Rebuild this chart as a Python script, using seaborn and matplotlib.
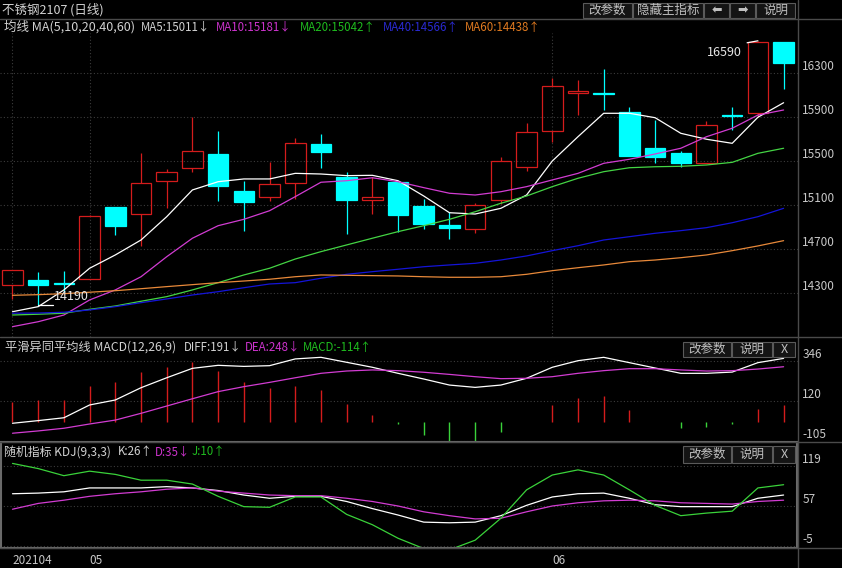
import matplotlib
matplotlib.use("Agg")
import matplotlib.pyplot as plt
import seaborn as sns
import pandas as pd
from matplotlib.patches import Rectangle
from matplotlib.lines import Line2D

# 不锈钢2107 日线
days = list(range(31))
opens = [14370, 14415, 14388, 14424, 15079, 15015, 15315, 15434, 15561, 15225,
         15170, 15297, 15652, 15352, 15143, 15306, 15088, 14915, 14879, 15143,
         15443, 15770, 16115, 16115, 15943, 15615, 15570, 15479, 15915, 15934, 16580]
highs = [14506, 14488, 14497, 15006, 15079, 15570, 15425, 15897, 15770, 15315,
         15488, 15706, 15743, 15397, 15352, 15306, 15152, 15034, 15115, 15534,
         15843, 16252, 16234, 16334, 15988, 15870, 15588, 15861, 15988, 16590, 16580]
lows = [14243, 14190, 14297, 14424, 14825, 14725, 15070, 15397, 15134, 14861,
        15134, 15152, 15434, 14834, 15015, 14852, 14879, 14788, 14843, 15106,
        15406, 15670, 15915, 15961, 15543, 15479, 15443, 15479, 15779, 15897, 16152]
closes = [14506, 14370, 14379, 14997, 14906, 15297, 15397, 15588, 15270, 15125,
          15288, 15661, 15579, 15143, 15170, 15006, 14925, 14888, 15097, 15497,
          15761, 16179, 16134, 16106, 15543, 15534, 15479, 15825, 15906, 16580, 16388]

ma5 = [14127, 14173, 14325, 14522, 14643, 14779, 14991, 15234, 15309, 15334,
       15334, 15385, 15379, 15364, 15367, 15318, 15179, 15027, 15015, 15067,
       15188, 15497, 15718, 15931, 15931, 15891, 15749, 15695, 15658, 15895, 16027]
ma10 = [13991, 14036, 14097, 14234, 14325, 14445, 14627, 14795, 14909, 14967,
        15045, 15173, 15304, 15318, 15345, 15309, 15255, 15204, 15188, 15218,
        15264, 15325, 15385, 15476, 15513, 15561, 15613, 15718, 15795, 15915, 15961]
ma20 = [14097, 14104, 14113, 14149, 14179, 14222, 14264, 14325, 14391, 14461,
        14522, 14606, 14673, 14734, 14795, 14855, 14909, 14967, 15036, 15113,
        15179, 15264, 15340, 15400, 15436, 15445, 15449, 15461, 15485, 15567, 15613]
ma40 = [14113, 14115, 14122, 14143, 14173, 14209, 14243, 14279, 14309, 14345,
        14379, 14391, 14431, 14467, 14491, 14513, 14536, 14552, 14567, 14597,
        14634, 14682, 14727, 14779, 14809, 14840, 14864, 14891, 14936, 14991, 15067]
ma60 = [14276, 14282, 14291, 14304, 14318, 14336, 14355, 14373, 14391, 14406,
        14422, 14445, 14461, 14458, 14455, 14452, 14445, 14440, 14440, 14445,
        14467, 14500, 14527, 14552, 14582, 14597, 14618, 14643, 14682, 14725, 14773]

diff = [-7, 8, 24, 96, 124, 193, 249, 302, 319, 313, 317, 355, 364, 336, 308, 274,
        242, 208, 195, 208, 246, 308, 345, 364, 334, 304, 274, 274, 281, 334, 358]
dea = [-63, -50, -35, -11, 11, 49, 90, 131, 171, 199, 223, 249, 274, 287, 293, 289,
       280, 268, 255, 244, 246, 255, 274, 289, 300, 300, 293, 287, 289, 298, 311]
macd_hist = [113, 124, 124, 203, 225, 281, 309, 336, 287, 225, 190, 203, 180, 101, 40, -12,
             -75, -118, -118, -56, 2, 96, 137, 148, 68, 3, -35, -30, -12, 73, 96]

k_vals = [76, 77, 79, 85, 85, 85, 87, 85, 81, 74, 69, 72, 72, 64, 53, 43,
          32, 31, 32, 42, 58, 71, 76, 77, 69, 59, 56, 56, 56, 69, 74]
d_vals = [52, 61, 66, 72, 76, 79, 83, 85, 80, 77, 74, 73, 73, 69, 64, 57,
          48, 42, 37, 38, 48, 57, 62, 65, 66, 65, 62, 61, 60, 64, 66]
j_vals = [123, 115, 104, 111, 106, 97, 97, 91, 72, 56, 55, 71, 71, 44, 28, 7,
          -9, -11, 4, 38, 82, 105, 113, 105, 82, 58, 42, 46, 49, 85, 90]

month_idx = [0, 3, 21]
month_labels = ["202104", "05", "06"]
price_ticks = [16300, 15900, 15500, 15100, 14700, 14300]
macd_ticks = [346, 120, -105]
kdj_ticks = [119, 57, -5]

RED = "#d41c1c"
CYAN = "#00ffff"
GREEN = "#3ad23a"
MAGENTA = "#d23cd2"
TXT = "#d2d2d2"
LINE = "#4a4a4a"

sns.set_theme(style="dark", rc={"axes.facecolor": "black", "figure.facecolor": "black"})
plt.rcParams['font.family'] = ['Noto Sans CJK SC', 'DejaVu Sans']
plt.rcParams['axes.unicode_minus'] = False

W, H = 842, 568
fig = plt.figure(figsize=(W / 100, H / 100), dpi=100)
fig.patch.set_facecolor('black')


def px_box(top, bottom):
    return [0, 1 - bottom / H, 798 / W, (bottom - top) / H]


ax = fig.add_axes(px_box(33, 337))
ax_macd = fig.add_axes(px_box(337, 442))
ax_kdj = fig.add_axes(px_box(442, 548))


def style_axis(a, ylim, ticks):
    a.set_facecolor('black')
    a.set_xlim(-0.486, 30.56)
    a.set_ylim(*ylim)
    a.set_yticks(ticks)
    a.set_yticklabels([str(t) for t in ticks])
    a.yaxis.tick_right()
    a.tick_params(axis='y', length=0, pad=3, labelsize=8.5, labelcolor='#c8c8c8')
    for lab in a.get_yticklabels():
        lab.set_va('bottom')
    a.grid(axis='y', color='#3c3c3c', linestyle=(0, (1, 2)), linewidth=0.8)
    a.grid(axis='x', visible=False)
    for s in a.spines.values():
        s.set_visible(False)


# ---- 主图: K线 + 均线
for i in days:
    o, h, l, c = opens[i], highs[i], lows[i], closes[i]
    up = c >= o
    col = RED if up else CYAN
    lo_b, hi_b = min(o, c), max(o, c)
    ax.vlines(i, hi_b, h, color=col, lw=0.9, zorder=2)
    ax.vlines(i, l, lo_b, color=col, lw=0.9, zorder=2)
    ax.bar(i, max(hi_b - lo_b, 6), bottom=lo_b, width=0.8,
           facecolor='none' if up else CYAN, edgecolor=col, linewidth=0.9, zorder=2)

ma_df = pd.DataFrame({'day': days, 'MA5': ma5, 'MA10': ma10, 'MA20': ma20,
                      'MA40': ma40, 'MA60': ma60}).melt('day', var_name='line', value_name='price')
ma_colors = {'MA5': '#ffffff', 'MA10': MAGENTA, 'MA20': '#44d444',
             'MA40': '#1414d8', 'MA60': '#e8893a'}
sns.lineplot(data=ma_df, x='day', y='price', hue='line', palette=ma_colors,
             linewidth=0.9, legend=False, errorbar=None, ax=ax, zorder=3)

style_axis(ax, (13897, 16661), price_ticks)
ax.set_xticks(month_idx)
ax.tick_params(axis='x', length=0, labelbottom=False)
ax.grid(axis='x', visible=True, color='#3c3c3c', linestyle=(0, (1, 2)), linewidth=0.8)
ax.set_xlabel('')
ax.set_ylabel('')

# 最高最低价标记
ax.plot([0.995, 1.56], [14190, 14190], color='white', lw=0.9, zorder=4)
ax.annotate('14190', xy=(1, 14190), xytext=(16, 8), textcoords='offset pixels',
            va='center', ha='left', color='#e6e6e6', fontsize=9)
ax.plot([29 - 0.42, 29], [16572, 16590], color='white', lw=0.9, zorder=4)
ax.annotate('16590', xy=(29, 16590), xytext=(-16, -12), textcoords='offset pixels',
            va='center', ha='right', color='#e6e6e6', fontsize=9)

# ---- MACD
macd_df = pd.DataFrame({'day': days, 'DIFF': diff, 'DEA': dea}).melt('day', var_name='line', value_name='v')
hist_colors = [RED if v >= 0 else GREEN for v in macd_hist]
ax_macd.vlines(days, 0, macd_hist, colors=hist_colors, lw=1.0)
sns.lineplot(data=macd_df, x='day', y='v', hue='line', palette={'DIFF': '#ffffff', 'DEA': MAGENTA},
             linewidth=0.9, legend=False, errorbar=None, ax=ax_macd)
style_axis(ax_macd, (-112.3, 478.3), macd_ticks)
ax_macd.set_xticks([])
ax_macd.set_xlabel('')
ax_macd.set_ylabel('')

# ---- KDJ
kdj_df = pd.DataFrame({'day': days, 'K': k_vals, 'D': d_vals, 'J': j_vals}).melt('day', var_name='line', value_name='v')
sns.lineplot(data=kdj_df, x='day', y='v', hue='line',
             palette={'K': '#ffffff', 'D': MAGENTA, 'J': GREEN},
             linewidth=0.9, legend=False, errorbar=None, ax=ax_kdj)
style_axis(ax_kdj, (-8.1, 156.2), kdj_ticks)
ax_kdj.set_xticks(month_idx)
ax_kdj.set_xticklabels(month_labels)
ax_kdj.tick_params(axis='x', length=0, pad=4, labelsize=8.5, labelcolor='#c8c8c8')
for lab in ax_kdj.get_xticklabels():
    lab.set_ha('left')
ax_kdj.set_xlabel('')
ax_kdj.set_ylabel('')

# ---- 框线
for y in [19, 337, 442, 548]:
    fig.add_artist(Line2D([0, 1], [1 - y / H] * 2, color=LINE, lw=1.0))
fig.add_artist(Line2D([798 / W] * 2, [0, 1], color=LINE, lw=1.0))
fig.add_artist(Rectangle((1 / W, 1 - 548 / H), 796 / W, 106 / H, transform=fig.transFigure,
                         facecolor='none', edgecolor='#6a6a6a', lw=1.5))


def ftext(x, y, s, color=TXT, size=8.8, **kw):
    fig.text(x / W, 1 - y / H, s, color=color, va='center', ha='left', fontsize=size, **kw)


def button(x0, x1, y0, y1, label, **kw):
    fig.add_artist(Rectangle((x0 / W, 1 - y1 / H), (x1 - x0) / W, (y1 - y0) / H,
                             transform=fig.transFigure, facecolor='#141414',
                             edgecolor='#5a5a5a', lw=0.8))
    fig.text((x0 + x1) / 2 / W, 1 - (y0 + y1) / 2 / H, label, ha='center', va='center',
             color='#c0c0c0', fontsize=9, **kw)


ftext(2, 10, "不锈钢2107 (日线)", size=9)
ftext(4, 27, "均线 MA(5,10,20,40,60)", size=9)
ftext(141, 27, "MA5:15011↓", size=8.3)
ftext(216, 27, "MA10:15181↓", color="#cc33cc", size=8.3)
ftext(300, 27, "MA20:15042↑", color="#1fbb1f", size=8.3)
ftext(383, 27, "MA40:14566↑", color="#2a2ad2", size=8.3)
ftext(465, 27, "MA60:14438↑", color="#e07a20", size=8.3)

ftext(5, 347, "平滑异同平均线 MACD(12,26,9)")
ftext(184, 347, "DIFF:191↓", size=8.3)
ftext(245, 347, "DEA:248↓", color="#cc33cc", size=8.3)
ftext(303, 347, "MACD:-114↑", color="#1fbb1f", size=8.3)

ftext(4, 452, "随机指标 KDJ(9,3,3)", size=8.6)
ftext(118, 452, "K:26↑", size=8.3)
ftext(155, 452, "D:35↓", color="#cc33cc", size=8.3)
ftext(192, 452, "J:10↑", color="#1fbb1f", size=8.3)

button(583, 632, 3, 18, "改参数")
button(633, 703, 3, 18, "隐藏主指标")
button(704, 729, 3, 18, "⬅", family='DejaVu Sans')
button(730, 755, 3, 18, "➡", family='DejaVu Sans')
button(756, 795, 3, 18, "说明")
for y0, y1 in [(342, 357), (446, 463)]:
    button(683, 731, y0, y1, "改参数")
    button(732, 772, y0, y1, "说明")
    button(773, 795, y0, y1, "X")

fig.savefig("out.png", dpi=100, facecolor='black')
